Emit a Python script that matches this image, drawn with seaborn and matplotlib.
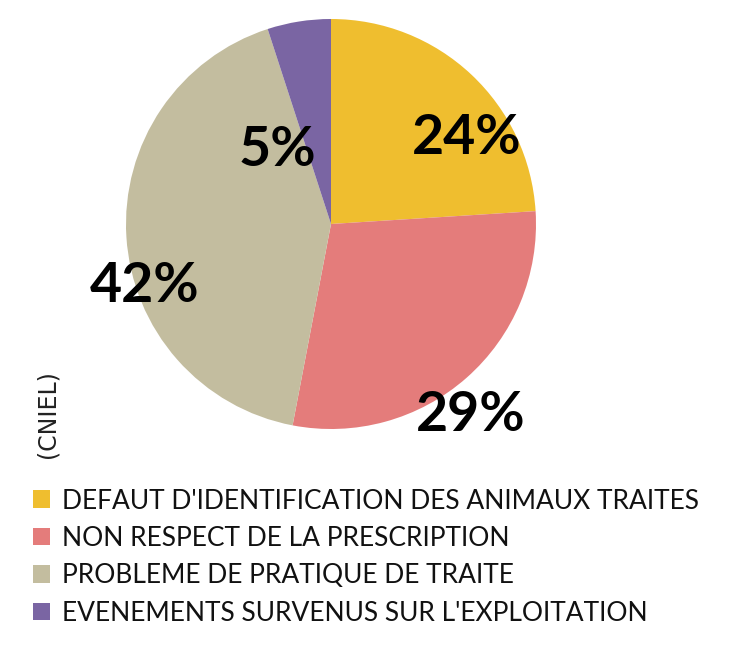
import matplotlib
matplotlib.use("Agg")
import matplotlib.pyplot as plt
from matplotlib.patches import Patch
import seaborn as sns

categories = [
    "DEFAUT D'IDENTIFICATION DES ANIMAUX TRAITES",
    "NON RESPECT DE LA PRESCRIPTION",
    "PROBLEME DE PRATIQUE DE TRAITE",
    "EVENEMENTS SURVENUS SUR L'EXPLOITATION",
]
values = [24, 29, 42, 5]
pct_labels = ["24%", "29%", "42%", "5%"]
colors = ["#EFBE2F", "#E47C7B", "#C3BD9F", "#7A65A3"]

sns.set_theme(style="white")
plt.rcParams["font.family"] = ["Lato", "DejaVu Sans"]

W, H = 747, 651
fig = plt.figure(figsize=(W / 100, H / 100), dpi=100)
fig.patch.set_facecolor("white")

cx, cy, r = 331, 224, 205
ax = fig.add_axes([(cx - r) / W, 1 - (cy + r) / H, 2 * r / W, 2 * r / H])
wedges, _ = ax.pie(values, colors=sns.color_palette(colors), startangle=90,
                   counterclock=False, radius=1.0,
                   wedgeprops=dict(linewidth=0))
ax.set_xlim(-1, 1)
ax.set_ylim(-1, 1)
ax.set_aspect("equal")
ax.axis("off")

label_pos = [(0.66, 0.42), (0.68, -0.93), (-0.91, -0.30), (-0.26, 0.36)]
for (x, y), t in zip(label_pos, pct_labels):
    ax.text(x, y, t, ha="center", va="center", fontsize=40, fontweight="bold",
            color="black", clip_on=False)

handles = [Patch(facecolor=c, edgecolor="none") for c in colors]
fig.legend(handles, categories, loc="upper left",
           bbox_to_anchor=(22 / W, 1 - 478 / H), frameon=False,
           fontsize=19, handlelength=0.65, handleheight=0.65,
           handletextpad=0.45, labelspacing=0.47, borderaxespad=0,
           labelcolor="#111111")

fig.text(48 / W, 1 - 414 / H, "(CNIEL)", rotation=90, ha="center", va="center",
         fontsize=17, family=["Liberation Sans Narrow", "DejaVu Sans"], color="#222222")

fig.savefig("out.png", dpi=100)
